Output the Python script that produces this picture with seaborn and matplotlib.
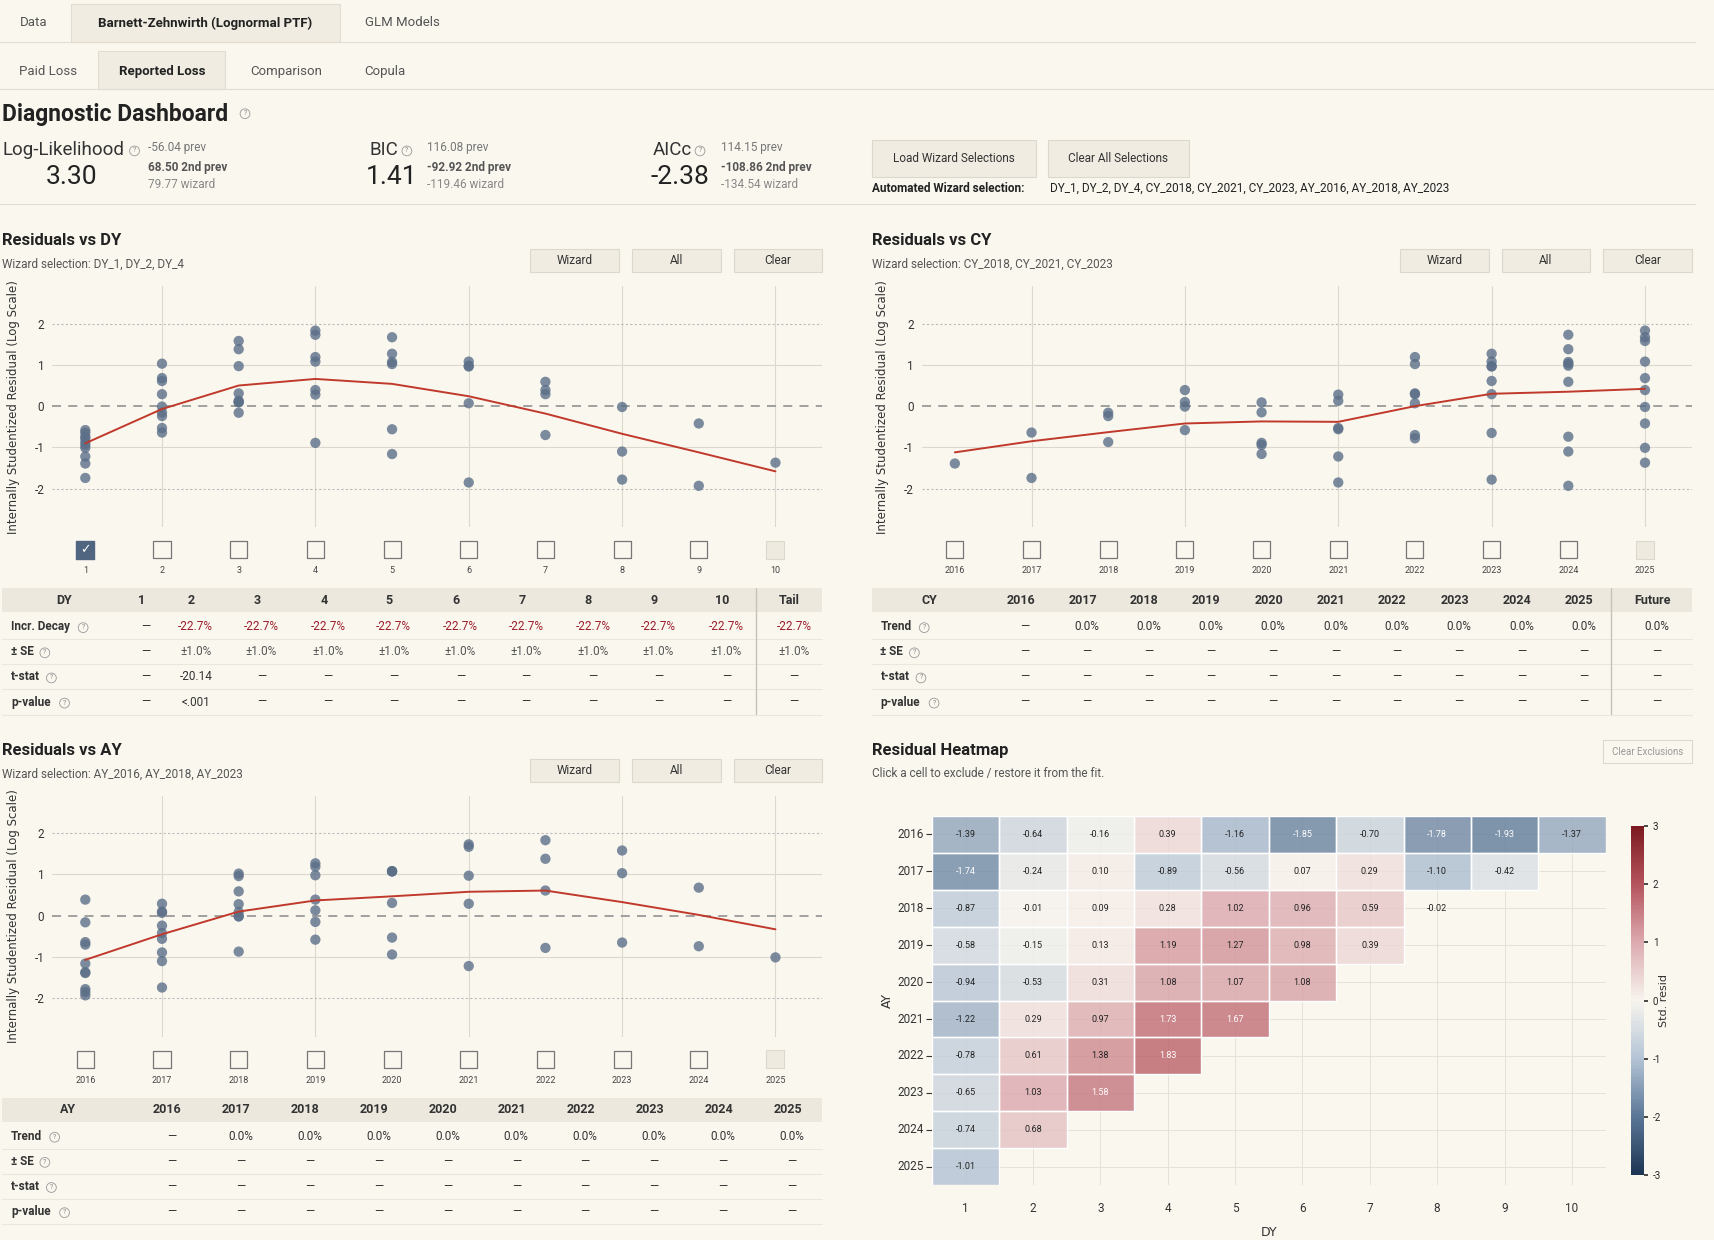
import numpy as np
import pandas as pd
import matplotlib
matplotlib.use("Agg")
import matplotlib.pyplot as plt
import seaborn as sns
from matplotlib.patches import Rectangle
from matplotlib.colors import Normalize, LinearSegmentedColormap
import matplotlib.cm as cm

sns.set_theme(style="white")
plt.rcParams['font.family'] = ['Roboto', 'DejaVu Sans']

# ---------------- data ----------------
ay_years = [2016, 2017, 2018, 2019, 2020, 2021, 2022, 2023, 2024, 2025]
dev_years = [1, 2, 3, 4, 5, 6, 7, 8, 9, 10]
cal_years = [2016, 2017, 2018, 2019, 2020, 2021, 2022, 2023, 2024, 2025]
resid_2016 = [-1.39, -0.64, -0.16, 0.39, -1.16, -1.85, -0.70, -1.78, -1.93, -1.37]
resid_2017 = [-1.74, -0.24, 0.10, -0.89, -0.56, 0.07, 0.29, -1.10, -0.42]
resid_2018 = [-0.87, -0.01, 0.09, 0.28, 1.02, 0.96, 0.59, -0.02]
resid_2019 = [-0.58, -0.15, 0.13, 1.19, 1.27, 0.98, 0.39]
resid_2020 = [-0.94, -0.53, 0.31, 1.08, 1.07, 1.08]
resid_2021 = [-1.22, 0.29, 0.97, 1.73, 1.67]
resid_2022 = [-0.78, 0.61, 1.38, 1.83]
resid_2023 = [-0.65, 1.03, 1.58]
resid_2024 = [-0.74, 0.68]
resid_2025 = [-1.01]
excluded_cells = [(2018, 8)]
trend_dy = [-0.90, -0.07, 0.50, 0.66, 0.54, 0.24, -0.18, -0.67, -1.12, -1.58]
trend_cy = [-1.12, -0.85, -0.63, -0.42, -0.37, -0.38, 0.00, 0.30, 0.35, 0.42]
trend_ay = [-1.07, -0.45, 0.10, 0.37, 0.47, 0.58, 0.61, 0.33, 0.02, -0.33]

rows = [resid_2016, resid_2017, resid_2018, resid_2019, resid_2020,
        resid_2021, resid_2022, resid_2023, resid_2024, resid_2025]
recs = []
for a, r in zip(ay_years, rows):
    for d, v in zip(dev_years, r):
        recs.append(dict(AY=a, DY=d, CY=a + d - 1, resid=v))
df = pd.DataFrame(recs)

# ---------------- figure ----------------
W, H = 1568.0, 1134.0
BG = '#faf7ef'
fig = plt.figure(figsize=(17.15, 12.4), dpi=100, facecolor=BG)

def fx(x): return x / W
def fy(y): return 1 - y / H
def T(x, y, s, **kw):
    kw.setdefault('color', '#222222')
    kw.setdefault('va', 'center')
    return fig.text(fx(x), fy(y), s, **kw)
def R(x0, y0, x1, y1, fc, ec='none', lw=0.8, alpha=1):
    fig.patches.append(Rectangle((fx(x0), fy(y1)), (x1 - x0) / W, (y1 - y0) / H,
                                 transform=fig.transFigure, fc=fc, ec=ec, lw=lw, alpha=alpha, zorder=0))
def L(x0, x1, y, c='#e2ddd0', lw=0.8):
    fig.add_artist(plt.Line2D([fx(x0), fx(x1)], [fy(y), fy(y)], color=c, lw=lw))
def Q(x, y):
    fig.text(fx(x), fy(y), '?', fontsize=5, color='#888', ha='center', va='center',
             bbox=dict(boxstyle='circle,pad=0.2', fc='none', ec='#999', lw=0.6))
def BTN(x0, x1, y0, y1, s, faded=False):
    R(x0, y0, x1, y1, '#f0ece2' if not faded else BG, ec='#ddd8cc')
    T((x0 + x1) / 2, (y0 + y1) / 2, s, ha='center', fontsize=8.5 if not faded else 7,
      color='#333' if not faded else '#999')

# tabs
R(65, 4, 311, 38, '#f0ece2', ec='#e2ddd0')
T(31, 21, 'Data', ha='center', fontsize=9.5, color='#555')
T(188, 21, 'Barnett-Zehnwirth (Lognormal PTF)', ha='center', fontsize=9.5, weight='bold')
T(368, 21, 'GLM Models', ha='center', fontsize=9.5, color='#555')
L(0, 1550, 38)
R(90, 47, 206, 81, '#f0ece2', ec='#e2ddd0')
T(44, 65, 'Paid Loss', ha='center', fontsize=9.5, color='#555')
T(148, 65, 'Reported Loss', ha='center', fontsize=9.5, weight='bold')
T(262, 65, 'Comparison', ha='center', fontsize=9.5, color='#555')
T(352, 65, 'Copula', ha='center', fontsize=9.5, color='#555')
L(0, 1568, 81)

T(2, 105, 'Diagnostic Dashboard', fontsize=16.5, weight='bold')
Q(224, 104)

# metrics
def metric(xl, xv, xs, name, val, p1, p2, p3, qx):
    T(xl, 137, name, fontsize=13.5, color='#333')
    Q(qx, 138)
    T(xv, 162, val, ha='center', fontsize=19, color='#222')
    T(xs, 135, p1, fontsize=8.5, color='#777')
    T(xs, 153, p2, fontsize=8.5, color='#555', weight='bold')
    T(xs, 169, p3, fontsize=8.5, color='#888')
metric(2, 65, 135, 'Log-Likelihood', '3.30', '-56.04 prev', '68.50 2nd prev', '79.77 wizard', 123)
metric(338, 358, 390, 'BIC', '1.41', '116.08 prev', '-92.92 2nd prev', '-119.46 wizard', 372)
metric(597, 622, 659, 'AICc', '-2.38', '114.15 prev', '-108.86 2nd prev', '-134.54 wizard', 640)
BTN(797, 947, 128, 162, 'Load Wizard Selections')
BTN(958, 1087, 128, 162, 'Clear All Selections')
T(797, 172, 'Automated Wizard selection:', fontsize=8.5, weight='bold')
T(960, 172, 'DY_1, DY_2, DY_4, CY_2018, CY_2021, CY_2023, AY_2016, AY_2018, AY_2023', fontsize=8.5)
L(0, 1550, 187)

POINT = '#5b6f88'
RED = '#c0392b'

def resid_panel(ox, oy, title, sub, xcol, cats, trend, labels, checked, xfirst, xlast):
    T(ox + 2, oy + 220, title, fontsize=12, weight='bold')
    T(ox + 2, oy + 242, sub, fontsize=8.5, color='#555')
    BTN(ox + 485, ox + 566, oy + 228, oy + 249, 'Wizard')
    BTN(ox + 578, ox + 659, oy + 228, oy + 249, 'All')
    BTN(ox + 671, ox + 752, oy + 228, oy + 249, 'Clear')
    left, right, top, bot = ox + 48, ox + 752, oy + 262, oy + 482
    ax = fig.add_axes([fx(left), fy(bot), (right - left) / W, (bot - top) / H])
    ax.set_facecolor(BG)
    n = len(cats)
    pxu = (xlast - xfirst) / (n - 1)
    x0 = cats[0] - (xfirst - left) / pxu
    x1 = cats[-1] + (right - xlast) / pxu
    ax.set_xlim(x0, x1)
    ax.set_ylim(-2.93, 2.9)
    for c in cats[1::2]:
        ax.axvline(c, color='#dcd8ce', lw=0.8, zorder=0)
    for yv, ls, c in [(2, (0, (2, 2)), '#bbb'), (-2, (0, (2, 2)), '#bbb'),
                      (1, '-', '#dcd8ce'), (-1, '-', '#dcd8ce')]:
        ax.axhline(yv, color=c, lw=0.8, ls=ls, zorder=0)
    ax.axhline(0, color='#999', lw=1.3, ls=(0, (5, 4)), zorder=0)
    sns.scatterplot(data=df, x=xcol, y='resid', ax=ax, color=POINT, s=55, alpha=0.8,
                    edgecolor='none', zorder=3, legend=False)
    sns.lineplot(x=cats, y=trend, ax=ax, color=RED, lw=1.4, zorder=4)
    ax.set_yticks([-2, -1, 0, 1, 2])
    ax.set_yticklabels(['-2', '-1', '0', '1', '2'], fontsize=8.5, color='#333')
    ax.set_xticks([])
    ax.tick_params(axis='y', length=0, pad=6)
    ax.set_xlabel('')
    ax.set_ylabel('')
    for s in ax.spines.values():
        s.set_visible(False)
    T(ox + 12, oy + 372, 'Internally Studentized Residual (Log Scale)', rotation=90,
      ha='center', fontsize=8.5, color='#333', family=['DejaVu Sans'])
    cb = fig.add_axes([fx(left), fy(oy + 530), (right - left) / W, 40 / H])
    cb.set_xlim(x0, x1); cb.set_ylim(0, 1); cb.axis('off')
    for i, (c, lab) in enumerate(zip(cats, labels)):
        if i in checked:
            cb.scatter([c], [0.68], marker='s', s=150, color='#4f6580', zorder=3)
            cb.text(c, 0.68, '✓', color='white', ha='center', va='center', fontsize=9,
                    family=['DejaVu Sans'], weight='bold')
        elif i == len(cats) - 1:
            cb.scatter([c], [0.68], marker='s', s=150, facecolor='#eeeae0', edgecolor='#ddd8cc', lw=0.8)
        else:
            cb.scatter([c], [0.68], marker='s', s=150, facecolor='none', edgecolor='#777', lw=0.9)
        cb.text(c, 0.2, lab, ha='center', va='center', fontsize=6.5, color='#444')
    return ax

resid_panel(0, 0, 'Residuals vs DY', 'Wizard selection: DY_1, DY_2, DY_4', 'DY', dev_years,
            trend_dy, [str(d) for d in dev_years], [0], 78, 709)
resid_panel(795, 0, 'Residuals vs CY', 'Wizard selection: CY_2018, CY_2021, CY_2023', 'CY',
            cal_years, trend_cy, [str(c) for c in cal_years], [], 873, 1504)
resid_panel(0, 466, 'Residuals vs AY', 'Wizard selection: AY_2016, AY_2018, AY_2023', 'AY',
            ay_years, trend_ay, [str(a) for a in ay_years], [], 78, 709)

def table(x0, x1, ytop, head, hx, rowlabels, qoff, cells, sep=None):
    R(x0, ytop, x1, ytop + 22, '#ece8de')
    for s, x in zip(head, hx):
        T(x, ytop + 11, s, ha='center', fontsize=9, weight='bold', color='#333')
    for i, (lab, row, qo) in enumerate(zip(rowlabels, cells, qoff)):
        y = ytop + 35 + i * 23
        T(x0 + 8, y, lab, fontsize=8.5, weight='bold', color='#333')
        Q(x0 + 8 + qo, y + 1)
        L(x0, x1, y + 11.5, c='#ebe7dd')
        for s, x in zip(row, hx[1:]):
            col = '#9b1c2a' if s.startswith('-22') else ('#555' if s.startswith('±') else '#333')
            T(x + 4, y, s, ha='center', fontsize=8.5, color=col)
    if sep:
        fig.add_artist(plt.Line2D([fx(sep)] * 2, [fy(ytop), fy(ytop + 115)], color='#c8c3b8', lw=1))

dash = '—'
table(2, 752, 538, ['DY'] + [str(d) for d in dev_years] + ['Tail'],
      [59, 129, 175, 235, 296, 356, 417, 477, 538, 598, 660, 722],
      ['Incr. Decay', '± SE', 't-stat', 'p-value'], [66, 31, 37, 49],
      [[dash] + ['-22.7%'] * 9 + ['-22.7%'],
       [dash] + ['±1.0%'] * 9 + ['±1.0%'],
       [dash, '-20.14'] + [dash] * 9,
       [dash, '<.001'] + [dash] * 9], sep=691)
table(797, 1547, 538, ['CY'] + [str(c) for c in cal_years] + ['Future'],
      [850, 933, 990, 1046, 1103, 1160, 1217, 1273, 1330, 1387, 1444, 1511],
      ['Trend', '± SE', 't-stat', 'p-value'], [40, 31, 37, 49],
      [[dash] + ['0.0%'] * 9 + ['0.0%'],
       [dash] * 11, [dash] * 11, [dash] * 11], sep=1473)
table(2, 752, 1004, ['AY'] + [str(a) for a in ay_years],
      [62, 153, 216, 279, 342, 405, 468, 531, 594, 657, 720],
      ['Trend', '± SE', 't-stat', 'p-value'], [40, 31, 37, 49],
      [[dash] + ['0.0%'] * 9, [dash] * 10, [dash] * 10, [dash] * 10])

# heatmap
T(797, 686, 'Residual Heatmap', fontsize=12, weight='bold')
T(797, 707, 'Click a cell to exclude / restore it from the fit.', fontsize=8.5, color='#555')
BTN(1466, 1547, 677, 698, 'Clear Exclusions', faded=True)
cmap = LinearSegmentedColormap.from_list('resid', ['#1c3454', '#5a7696', '#b4c4d6', '#f7f4ee',
                                                   '#dcaab0', '#b5545c', '#7a1a20'])
mat = np.full((10, 10), np.nan)
for a, r in enumerate(rows):
    mat[a, :len(r)] = r
colormat = mat.copy()
for (a, d) in excluded_cells:
    colormat[ay_years.index(a), d - 1] = np.nan
labels = np.array([['' if np.isnan(v) else f'{v:.2f}' for v in row] for row in mat], dtype=object)
hl, hr, ht, hb = 852, 1468, 746, 1084
hax = fig.add_axes([fx(hl), fy(hb), (hr - hl) / W, (hb - ht) / H])
hax.set_facecolor(BG)
for i in range(10):
    hax.axvline(i + 0.5, color='#e6e2d8', lw=0.7, zorder=0)
    hax.axhline(i + 0.5, color='#e6e2d8', lw=0.7, zorder=0)
hm = pd.DataFrame(colormat, index=ay_years, columns=dev_years)
sns.heatmap(hm, ax=hax, cmap=cmap, vmin=-3, vmax=3, cbar=False, alpha=0.8,
            annot=labels, fmt='', linewidths=0,
            annot_kws=dict(fontsize=6.5, color='#222'))
for i in range(10):
    for j in range(10):
        if not np.isnan(colormat[i, j]):
            hax.add_patch(Rectangle((j, i), 1, 1, fc='none', ec='white', lw=1, zorder=2))
for t in hax.texts:
    try:
        v = float(t.get_text())
        if abs(v) > 1.5:
            t.set_color('white')
    except ValueError:
        pass
for (a, d) in excluded_cells:
    hax.text(d - 0.5, ay_years.index(a) + 0.5, f'{mat[ay_years.index(a), d - 1]:.2f}',
             ha='center', va='center', fontsize=6.5, color='#222')
hax.set_xticklabels([str(d) for d in dev_years], fontsize=8.5, color='#333', rotation=0)
hax.set_yticklabels([str(a) for a in ay_years], fontsize=8.5, color='#333', rotation=0)
hax.tick_params(length=4, width=0.8, color='#333', pad=2, left=True, bottom=False)
hax.tick_params(axis='x', pad=8)
hax.set_xlabel('')
hax.set_ylabel('')
T(1160, 1127, 'DY', ha='center', fontsize=9, family=['DejaVu Sans'], color='#333')
T(811, 915, 'AY', ha='center', rotation=90, fontsize=9, family=['DejaVu Sans'], color='#333')
cax = fig.add_axes([fx(1491), fy(1075), 12 / W, 320 / H])
cb = fig.colorbar(cm.ScalarMappable(norm=Normalize(-3, 3), cmap=cmap), cax=cax)
cb.outline.set_visible(False)
cb.set_ticks([-3, -2, -1, 0, 1, 2, 3])
cb.set_ticklabels(['-3', '-2', '-1', '0', '1', '2', '3'])
cax.tick_params(labelsize=7, length=3, color='#333')
T(1521, 915, 'Std. resid', rotation=90, ha='center', fontsize=8, family=['DejaVu Sans'], color='#333')

fig.savefig('out.png', dpi=100, facecolor=BG)
